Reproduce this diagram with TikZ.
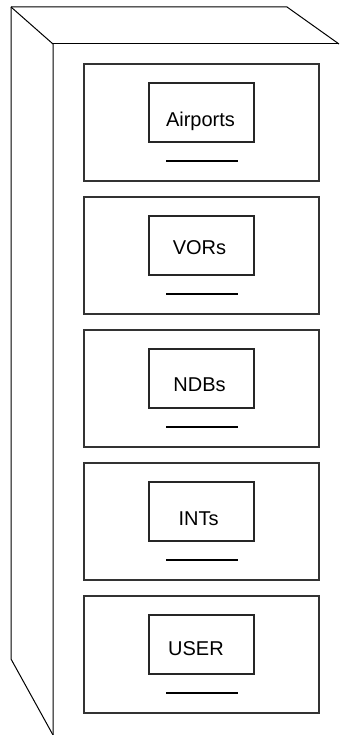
\documentclass[tikz,border=0pt]{standalone}
\usepackage{fontspec}
\setmainfont{Liberation Sans}
\begin{document}
\begin{tikzpicture}[x=0.75pt,y=-0.75pt,
  cabinet/.style={draw=black,line width=0.75pt,line join=miter},
  drawer/.style={draw=black!80,line width=0.85pt,rectangle,inner sep=0pt,
    minimum width=176.25pt,minimum height=87.75pt},
  labelbox/.style={draw=black!85,line width=0.8pt,rectangle,inner sep=0pt,
    minimum width=78.75pt,minimum height=44.25pt},
  handle/.style={draw=black,line width=1.6pt},
  caption/.style={anchor=base,inner sep=0pt,font=\fontsize{15}{18}\selectfont}]
\useasboundingbox (0,0) rectangle (339,735);

% cabinet body: top, side and front edge
\coordinate (bl) at (11,7);
\coordinate (br) at (287,7);
\coordinate (fl) at (53,44);
\coordinate (fr) at (339,44);
\coordinate (sb) at (11,659);
\coordinate (fb) at (53,735);
\draw[cabinet] (bl) -- (br) -- (fr);
\draw[cabinet] (fl) -- (fr);
\draw[cabinet] (bl) -- (fl) -- (fb);
\draw[cabinet] (bl) -- (sb) -- (fb);

% drawers
\foreach \i/\top/\txt/\tx/\ty in {1/64/Airports/200.5/126,
                                  2/197/VORs/199.5/254,
                                  3/330/NDBs/199.5/391,
                                  4/463/INTs/198.5/525,
                                  5/596/USER/196/655}{
  \node[drawer] (d\i) at (201.5,\top+58.5) {};
  \node[labelbox] (l\i) at (201.5,\top+48.5) {};
  \node[caption] (t\i) at (\tx,\ty) {\txt};
  \coordinate (ha\i) at (166,\top+97);
  \coordinate (hb\i) at (238,\top+97);
  \draw[handle] (ha\i) -- (hb\i);
}
\end{tikzpicture}
\end{document}
